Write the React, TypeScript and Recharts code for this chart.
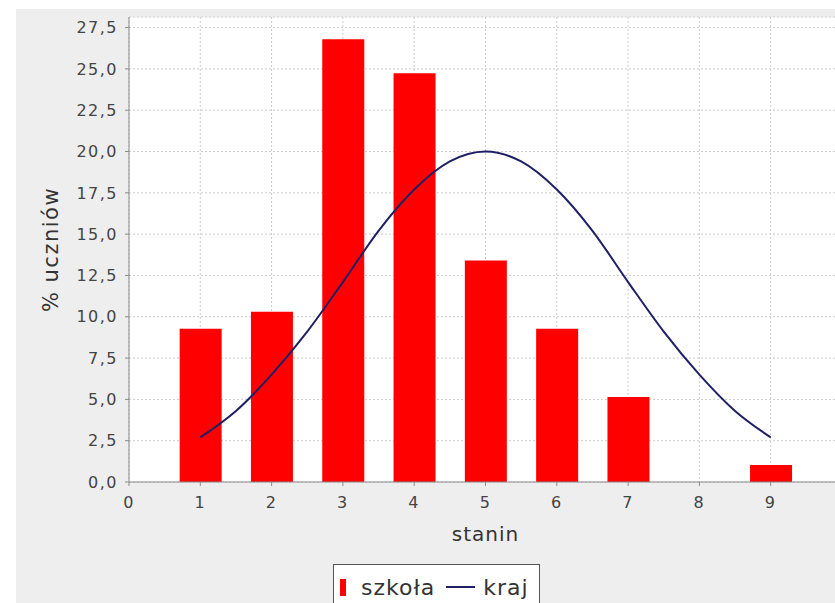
import React from 'react';
import { ComposedChart, Bar, Line, XAxis, YAxis, CartesianGrid, Legend, Label } from 'recharts';

// stanin categories and school percentages (bars)
const stanins = [1, 2, 3, 4, 5, 6, 7, 8, 9];
const szkolaValues = [9.28, 10.31, 26.8, 24.74, 13.4, 9.28, 5.15, 0, 1.03];

// national curve (line)
const krajX = [1, 1.5, 2, 2.5, 3, 3.5, 4, 4.5, 5, 5.5, 6, 6.5, 7, 7.5, 8, 8.5, 9];
const krajValues = [2.7, 4.3, 6.5, 9.1, 12.1, 15.2, 17.7, 19.4, 20.0, 19.4, 17.7, 15.2, 12.1, 9.1, 6.5, 4.3, 2.7];

// axis ticks
const xTicks = [0, 1, 2, 3, 4, 5, 6, 7, 8, 9];
const yTicks = [0, 2.5, 5, 7.5, 10, 12.5, 15, 17.5, 20, 22.5, 25, 27.5];

const seriesBarName = 'szkoła';
const seriesLineName = 'kraj';
const xLabel = 'stanin';
const yLabel = '% uczniów';

const barData = stanins.map((s, i) => ({ x: s, szkola: szkolaValues[i] }));
const lineData = krajX.map((x, i) => ({ x, kraj: krajValues[i] }));

const RED = '#ff0000';
const NAVY = '#1f1f66';
const FONT = '"DejaVu Sans", sans-serif';

const fmt = (v: number) => v.toFixed(1).replace('.', ',');

const renderLegend = () => (
  <div
    style={{
      boxSizing: 'border-box',
      width: 207,
      height: 46,
      border: '1.5px solid #555',
      background: '#ffffff',
      display: 'flex',
      alignItems: 'center',
      paddingLeft: 6,
      fontFamily: FONT,
      fontSize: 22,
      letterSpacing: 1,
      color: '#333',
      whiteSpace: 'nowrap',
    }}
  >
    <span style={{ display: 'inline-block', width: 6, height: 17, background: RED, marginRight: 15 }} />
    <span>{seriesBarName}</span>
    <span style={{ display: 'inline-block', width: 29, height: 2, background: NAVY, marginLeft: 11, marginRight: 8 }} />
    <span>{seriesLineName}</span>
  </div>
);

export default function App() {
  return (
    <div style={{ position: 'absolute', left: 0, top: 0, width: 835, height: 603, overflow: 'hidden', background: '#ffffff' }}>
      <style>{`.recharts-cartesian-axis-tick-value { letter-spacing: 1.5px; }`}</style>
      <div style={{ position: 'absolute', left: 16, top: 9, width: 860, height: 620, background: '#eeeeee' }}>
        <ComposedChart width={860} height={620} data={barData} margin={{ top: 8, right: 34, left: 0, bottom: 87 }}>
          <CartesianGrid fill="#ffffff" stroke="#cccccc" strokeDasharray="2 2" />
          <XAxis
            dataKey="x"
            type="number"
            domain={[0, 10]}
            ticks={xTicks}
            allowDataOverflow
            height={60}
            tickSize={4}
            tickMargin={11}
            axisLine={{ stroke: '#8a8a8a' }}
            tickLine={{ stroke: '#8a8a8a' }}
            tick={{ fill: '#444', fontSize: 16, fontFamily: FONT }}
          >
            <Label value={xLabel} position="insideBottom" offset={1} style={{ fill: '#333', fontSize: 20, fontFamily: FONT, letterSpacing: '1px' }} />
          </XAxis>
          <XAxis
            xAxisId="top"
            orientation="top"
            dataKey="x"
            type="number"
            domain={[0, 10]}
            allowDataOverflow
            height={0}
            tick={false}
            tickLine={false}
            axisLine={{ stroke: '#aaaaaa', strokeWidth: 1.5 }}
          />
          <YAxis
            type="number"
            domain={[0, 28.14]}
            ticks={yTicks}
            allowDataOverflow
            width={113}
            tickSize={4}
            tickMargin={7}
            tickFormatter={fmt}
            axisLine={{ stroke: '#8a8a8a' }}
            tickLine={{ stroke: '#8a8a8a' }}
            tick={{ fill: '#444', fontSize: 16, fontFamily: FONT }}
          >
            <Label
              value={yLabel}
              angle={-90}
              position="insideLeft"
              offset={35}
              style={{ textAnchor: 'middle', fill: '#333', fontSize: 21, fontFamily: FONT, letterSpacing: '1.5px' }}
            />
          </YAxis>
          <Bar dataKey="szkola" name={seriesBarName} fill={RED} barSize={42} isAnimationActive={false} />
          <Line
            data={lineData}
            xAxisId="top"
            dataKey="kraj"
            name={seriesLineName}
            type="monotone"
            stroke={NAVY}
            strokeWidth={2}
            dot={false}
            activeDot={false}
            isAnimationActive={false}
          />
          <Legend
            layout="horizontal"
            verticalAlign="middle"
            align="center"
            wrapperStyle={{ top: 555, left: 317, width: 207, height: 46 }}
            content={renderLegend}
          />
        </ComposedChart>
      </div>
    </div>
  );
}
